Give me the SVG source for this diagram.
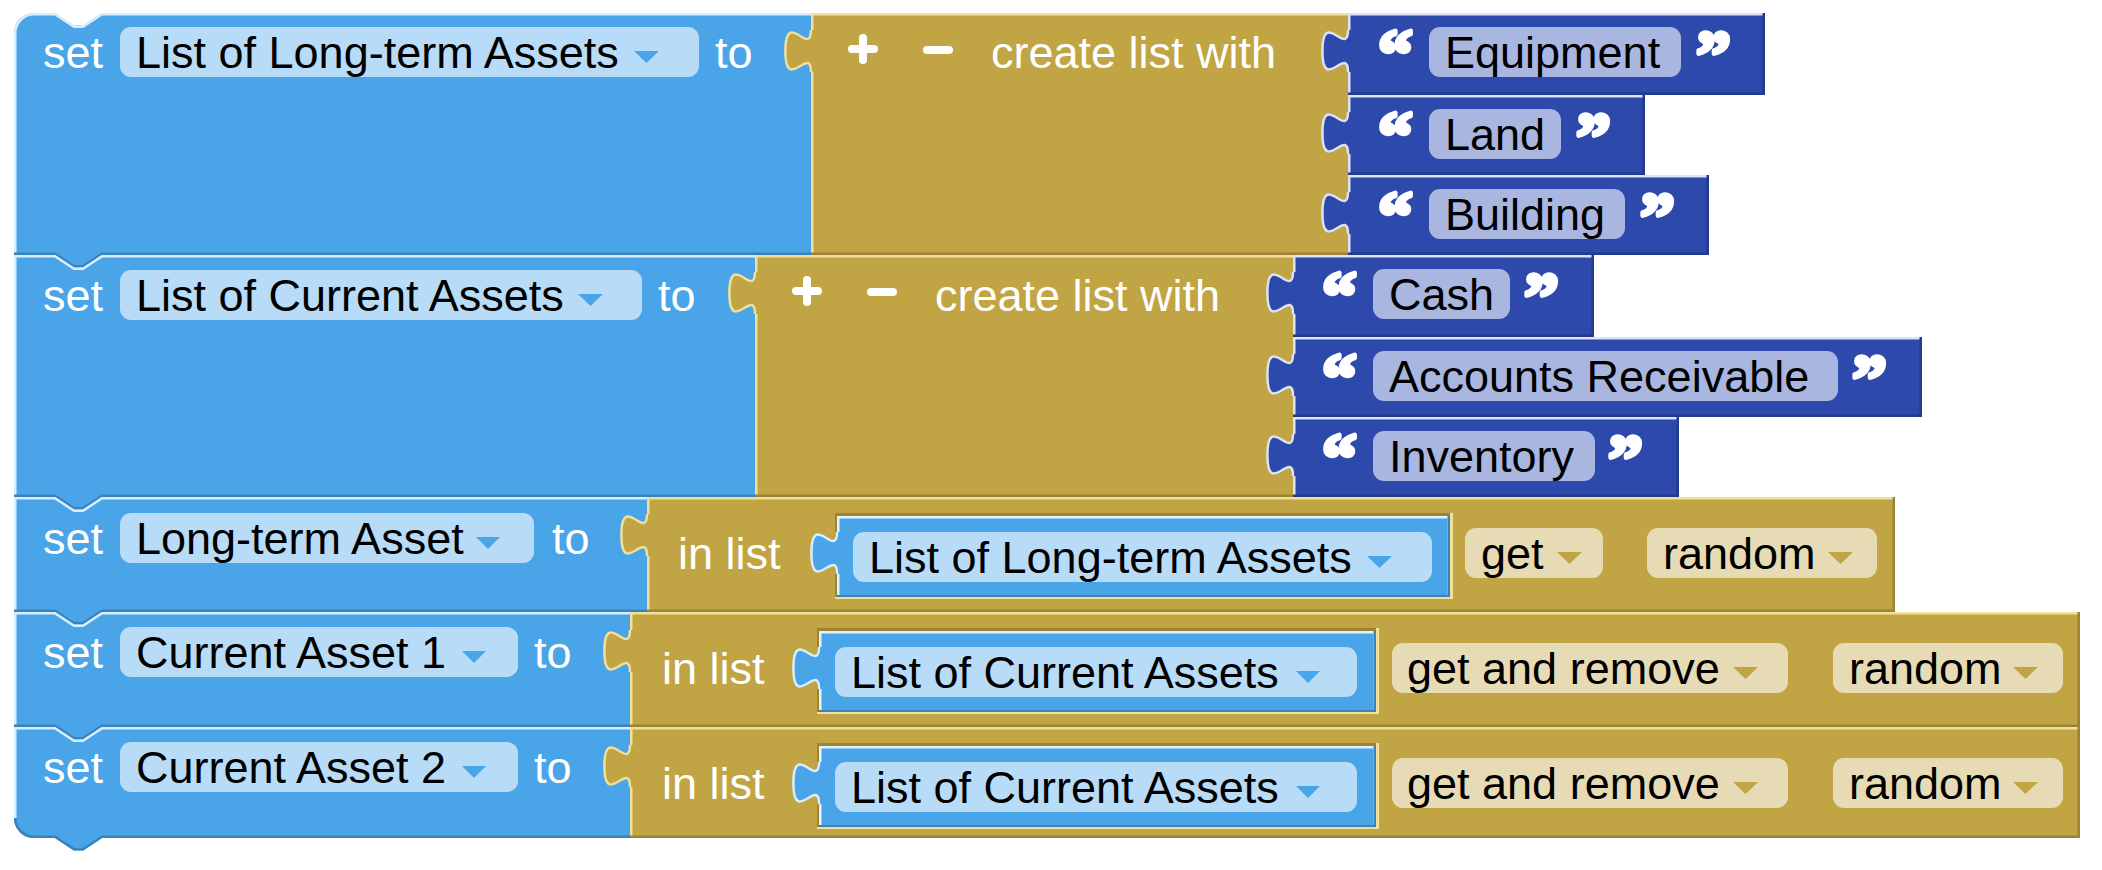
<svg xmlns="http://www.w3.org/2000/svg" width="2102" height="870" viewBox="0 0 2102 870">
<defs>
<style>
text{font-family:"Liberation Sans",Arial,Helvetica,sans-serif;font-size:45px}
.w{fill:#fff}
.k{fill:#000}
.q{font-family:"Liberation Serif","Times New Roman",serif;font-weight:bold;font-size:70px;fill:#fff;stroke:#fff;stroke-width:4.5;stroke-linejoin:round}
.blue{fill:#4aa5e8}
.bl{fill:none;stroke:#d9eefc;stroke-width:2.5}
.bd{fill:none;stroke:#3a82ba;stroke-width:2.5}
.gold{fill:#c1a443}
.gl{fill:none;stroke:#f3df9c;stroke-width:2.5}
.gd{fill:none;stroke:#9b8436;stroke-width:2.5}
.tb{fill:#2c49ab}
.tl{fill:none;stroke:#dde2f5;stroke-width:2.5}
.td{fill:none;stroke:#22398c;stroke-width:2.5}
.vf{fill:#b8dbf7}
.tf{fill:#a9b6e0}
.bf{fill:#e6dbb4}
.vtri{fill:#4aa5e8}
.gtri{fill:#c1a443}
.icon{stroke:#fff;stroke-width:8;stroke-linecap:round;fill:none}
.sock{fill:#9b8436}
.sockl{fill:#f3df9c}
.ibd{fill:#3a82ba}
.ibl{fill:#e2f1fc}
</style>
<path id="tab" d="M 3,0 H 0 c 0,28 -25.6,-22.4 -25.6,21 s 25.6,-7 25.6,21 H 3 Z"/>
<path id="tabedge" d="M 0,0 c 0,28 -25.6,-22.4 -25.6,21 s 25.6,-7 25.6,21"/>
</defs>

<!-- Block 1 -->
<g id="set-long-term-list">
<path class="blue" d="M 14,33 A 20,20 0 0 1 34,13 H 55 L 74,25.5 H 83 L 102,13 H 812 V 255 H 102 L 83,267.5 H 74 L 55,255 H 14 Z"/>
<path class="bl" d="M 15.25,255 V 33 A 18.75,18.75 0 0 1 34,14.25 H 55 L 74,26.75 H 83 L 102,14.25 H 811"/>
<path class="bd" d="M 14,253.75 H 55 L 74,266.25 H 83 L 102,253.75 H 811"/>
<text class="w" x="43" y="68">set</text>
<rect class="vf" x="120" y="27" width="579" height="50" rx="11"/>
<text class="k" x="136" y="68">List of Long-term Assets</text>
<path class="vtri" d="M 634,51 H 659 L 646.5,63 Z"/>
<text class="w" x="715" y="68">to</text>
</g>
<g id="create-list-1">
<rect class="gold" x="811" y="13" width="537" height="242"/>
<path class="gl" d="M 812.25,255 V 14.25 H 1348"/>
<path class="gd" d="M 811,253.75 H 1348"/>
<use href="#tab" class="gold" x="811" y="30"/>
<use href="#tabedge" class="gl" x="811" y="30"/>
<path class="icon" d="M 852,49 H 874 M 863,38 V 60 M 927,50 H 949"/>
<text class="w" x="991" y="68">create list with</text>
</g>
<g id="txt-equipment">
<rect class="tb" x="1348" y="13" width="417" height="82"/>
<path class="tl" d="M 1349.25,95 V 14.25 H 1765"/>
<path class="td" d="M 1348,93.75 H 1763.75 V 13"/>
<use href="#tab" class="tb" x="1348" y="30"/>
<use href="#tabedge" class="tl" x="1348" y="30"/>
<text class="q" x="1378" y="77">“</text>
<rect class="tf" x="1429" y="27" width="252" height="50" rx="11"/>
<text class="k" x="1445" y="68">Equipment</text>
<text class="q" x="1696" y="79">”</text>
</g>
<g id="txt-land">
<rect class="tb" x="1348" y="95" width="297" height="80"/>
<path class="tl" d="M 1349.25,175 V 96.25 H 1645"/>
<path class="td" d="M 1348,173.75 H 1643.75 V 95"/>
<use href="#tab" class="tb" x="1348" y="112"/>
<use href="#tabedge" class="tl" x="1348" y="112"/>
<text class="q" x="1378" y="159">“</text>
<rect class="tf" x="1429" y="109" width="132" height="50" rx="11"/>
<text class="k" x="1445" y="150">Land</text>
<text class="q" x="1576" y="161">”</text>
</g>
<g id="txt-building">
<rect class="tb" x="1348" y="175" width="361" height="80"/>
<path class="tl" d="M 1349.25,255 V 176.25 H 1709"/>
<path class="td" d="M 1348,253.75 H 1707.75 V 175"/>
<use href="#tab" class="tb" x="1348" y="192"/>
<use href="#tabedge" class="tl" x="1348" y="192"/>
<text class="q" x="1378" y="239">“</text>
<rect class="tf" x="1429" y="189" width="196" height="50" rx="11"/>
<text class="k" x="1445" y="230">Building</text>
<text class="q" x="1640" y="241">”</text>
</g>

<!-- Block 2 -->
<g id="set-current-list">
<path class="blue" d="M 14,255 H 55 L 74,267.5 H 83 L 102,255 H 756 V 497 H 102 L 83,509.5 H 74 L 55,497 H 14 Z"/>
<path class="bl" d="M 15.25,497 V 256.25 H 55 L 74,268.75 H 83 L 102,256.25 H 755"/>
<path class="bd" d="M 14,495.75 H 55 L 74,508.25 H 83 L 102,495.75 H 755"/>
<text class="w" x="43" y="311">set</text>
<rect class="vf" x="120" y="270" width="522" height="50" rx="11"/>
<text class="k" x="136" y="311">List of Current Assets</text>
<path class="vtri" d="M 578,294 H 603 L 590.5,306 Z"/>
<text class="w" x="658" y="311">to</text>
</g>
<g id="create-list-2">
<rect class="gold" x="755" y="255" width="538" height="242"/>
<path class="gl" d="M 756.25,497 V 256.25 H 1293"/>
<path class="gd" d="M 755,495.75 H 1293"/>
<use href="#tab" class="gold" x="755" y="272"/>
<use href="#tabedge" class="gl" x="755" y="272"/>
<path class="icon" d="M 796,291 H 818 M 807,280 V 302 M 871,292 H 893"/>
<text class="w" x="935" y="311">create list with</text>
</g>
<g id="txt-cash">
<rect class="tb" x="1293" y="255" width="301" height="82"/>
<path class="tl" d="M 1294.25,337 V 256.25 H 1594"/>
<path class="td" d="M 1293,335.75 H 1592.75 V 255"/>
<use href="#tab" class="tb" x="1293" y="272"/>
<use href="#tabedge" class="tl" x="1293" y="272"/>
<text class="q" x="1322" y="319">“</text>
<rect class="tf" x="1373" y="269" width="137" height="50" rx="11"/>
<text class="k" x="1389" y="310">Cash</text>
<text class="q" x="1524" y="321">”</text>
</g>
<g id="txt-accounts-receivable">
<rect class="tb" x="1293" y="337" width="629" height="80"/>
<path class="tl" d="M 1294.25,417 V 338.25 H 1922"/>
<path class="td" d="M 1293,415.75 H 1920.75 V 337"/>
<use href="#tab" class="tb" x="1293" y="354"/>
<use href="#tabedge" class="tl" x="1293" y="354"/>
<text class="q" x="1322" y="401">“</text>
<rect class="tf" x="1373" y="351" width="465" height="50" rx="11"/>
<text class="k" x="1389" y="392">Accounts Receivable</text>
<text class="q" x="1852" y="403">”</text>
</g>
<g id="txt-inventory">
<rect class="tb" x="1293" y="417" width="386" height="80"/>
<path class="tl" d="M 1294.25,497 V 418.25 H 1679"/>
<path class="td" d="M 1293,495.75 H 1677.75 V 417"/>
<use href="#tab" class="tb" x="1293" y="434"/>
<use href="#tabedge" class="tl" x="1293" y="434"/>
<text class="q" x="1322" y="481">“</text>
<rect class="tf" x="1373" y="431" width="222" height="50" rx="11"/>
<text class="k" x="1389" y="472">Inventory</text>
<text class="q" x="1608" y="483">”</text>
</g>

<!-- Block 3 -->
<g id="set-long-term-asset">
<path class="blue" d="M 14,497 H 55 L 74,509.5 H 83 L 102,497 H 648 V 612 H 102 L 83,624.5 H 74 L 55,612 H 14 Z"/>
<path class="bl" d="M 15.25,612 V 498.25 H 55 L 74,510.75 H 83 L 102,498.25 H 647"/>
<path class="bd" d="M 14,610.75 H 55 L 74,623.25 H 83 L 102,610.75 H 647"/>
<text class="w" x="43" y="554">set</text>
<rect class="vf" x="120" y="513" width="414" height="50" rx="11"/>
<text class="k" x="136" y="554">Long-term Asset</text>
<path class="vtri" d="M 476,537 H 500 L 488,549 Z"/>
<text class="w" x="552" y="554">to</text>
</g>
<g id="list-get-random">
<rect class="gold" x="647" y="497" width="1248" height="115"/>
<path class="gl" d="M 648.25,612 V 498.25 H 1895"/>
<path class="gd" d="M 647,610.75 H 1893.75 V 497"/>
<use href="#tab" class="gold" x="647" y="514"/>
<use href="#tabedge" class="gl" x="647" y="514"/>
<text class="w" x="678" y="569">in list</text>
<rect class="sockl" x="835" y="513" width="618" height="86"/>
<rect class="sock" x="835" y="513" width="615" height="84"/>
<rect class="ibd" x="837" y="516" width="613" height="81"/>
<rect class="ibl" x="837" y="516" width="610.5" height="79"/>
<rect class="blue" x="839.5" y="518.5" width="608" height="76.5"/>
<use href="#tab" class="blue" x="837" y="532"/>
<use href="#tabedge" class="bl" x="837" y="532"/>
<rect class="vf" x="853" y="532" width="579" height="50" rx="11"/>
<text class="k" x="869" y="573">List of Long-term Assets</text>
<path class="vtri" d="M 1367,556 H 1392 L 1379.5,568 Z"/>
<rect class="bf" x="1465" y="528" width="138" height="50" rx="11"/>
<text class="k" x="1481" y="569">get</text>
<path class="gtri" d="M 1557,552 H 1582 L 1569.5,564 Z"/>
<rect class="bf" x="1647" y="528" width="230" height="50" rx="11"/>
<text class="k" x="1663" y="569">random</text>
<path class="gtri" d="M 1828,552 H 1853 L 1840.5,564 Z"/>
</g>

<!-- Block 4 -->
<g id="set-current-asset-1">
<path class="blue" d="M 14,612 H 55 L 74,624.5 H 83 L 102,612 H 631 V 727 H 102 L 83,739.5 H 74 L 55,727 H 14 Z"/>
<path class="bl" d="M 15.25,727 V 613.25 H 55 L 74,625.75 H 83 L 102,613.25 H 630"/>
<path class="bd" d="M 14,725.75 H 55 L 74,738.25 H 83 L 102,725.75 H 630"/>
<text class="w" x="43" y="668">set</text>
<rect class="vf" x="120" y="627" width="398" height="50" rx="11"/>
<text class="k" x="136" y="668">Current Asset 1</text>
<path class="vtri" d="M 462,651 H 486 L 474,663 Z"/>
<text class="w" x="534" y="668">to</text>
</g>
<g id="list-get-remove-1">
<rect class="gold" x="630" y="612" width="1450" height="115"/>
<path class="gl" d="M 631.25,727 V 613.25 H 2080"/>
<path class="gd" d="M 630,725.75 H 2078.75 V 612"/>
<use href="#tab" class="gold" x="630" y="630"/>
<use href="#tabedge" class="gl" x="630" y="630"/>
<text class="w" x="662" y="684">in list</text>
<rect class="sockl" x="817" y="628" width="562" height="86"/>
<rect class="sock" x="817" y="628" width="559" height="84"/>
<rect class="ibd" x="819" y="631" width="557" height="81"/>
<rect class="ibl" x="819" y="631" width="554.5" height="79"/>
<rect class="blue" x="821.5" y="633.5" width="552" height="76.5"/>
<use href="#tab" class="blue" x="819" y="647"/>
<use href="#tabedge" class="bl" x="819" y="647"/>
<rect class="vf" x="835" y="647" width="522" height="50" rx="11"/>
<text class="k" x="851" y="688">List of Current Assets</text>
<path class="vtri" d="M 1296,671 H 1320 L 1308,683 Z"/>
<rect class="bf" x="1392" y="643" width="396" height="50" rx="11"/>
<text class="k" x="1407" y="684">get and remove</text>
<path class="gtri" d="M 1733,667 H 1758 L 1745.5,679 Z"/>
<rect class="bf" x="1833" y="643" width="230" height="50" rx="11"/>
<text class="k" x="1849" y="684">random</text>
<path class="gtri" d="M 2013,667 H 2038 L 2025.5,679 Z"/>
</g>

<!-- Block 5 -->
<g id="set-current-asset-2">
<path class="blue" d="M 14,727 H 55 L 74,739.5 H 83 L 102,727 H 631 V 838 H 102 L 83,850.5 H 74 L 55,838 H 34 A 20,20 0 0 1 14,818 Z"/>
<path class="bl" d="M 15.25,818 V 728.25 H 55 L 74,740.75 H 83 L 102,728.25 H 630"/>
<path class="bd" d="M 15.25,818 A 18.75,18.75 0 0 0 34,836.75 H 55 L 74,849.25 H 83 L 102,836.75 H 630"/>
<text class="w" x="43" y="783">set</text>
<rect class="vf" x="120" y="742" width="398" height="50" rx="11"/>
<text class="k" x="136" y="783">Current Asset 2</text>
<path class="vtri" d="M 462,766 H 486 L 474,778 Z"/>
<text class="w" x="534" y="783">to</text>
</g>
<g id="list-get-remove-2">
<rect class="gold" x="630" y="727" width="1450" height="111"/>
<path class="gl" d="M 631.25,838 V 728.25 H 2080"/>
<path class="gd" d="M 630,836.75 H 2078.75 V 727"/>
<use href="#tab" class="gold" x="630" y="745"/>
<use href="#tabedge" class="gl" x="630" y="745"/>
<text class="w" x="662" y="799">in list</text>
<rect class="sockl" x="817" y="743" width="562" height="86"/>
<rect class="sock" x="817" y="743" width="559" height="84"/>
<rect class="ibd" x="819" y="746" width="557" height="81"/>
<rect class="ibl" x="819" y="746" width="554.5" height="79"/>
<rect class="blue" x="821.5" y="748.5" width="552" height="76.5"/>
<use href="#tab" class="blue" x="819" y="762"/>
<use href="#tabedge" class="bl" x="819" y="762"/>
<rect class="vf" x="835" y="762" width="522" height="50" rx="11"/>
<text class="k" x="851" y="803">List of Current Assets</text>
<path class="vtri" d="M 1296,786 H 1320 L 1308,798 Z"/>
<rect class="bf" x="1392" y="758" width="396" height="50" rx="11"/>
<text class="k" x="1407" y="799">get and remove</text>
<path class="gtri" d="M 1733,782 H 1758 L 1745.5,794 Z"/>
<rect class="bf" x="1833" y="758" width="230" height="50" rx="11"/>
<text class="k" x="1849" y="799">random</text>
<path class="gtri" d="M 2013,782 H 2038 L 2025.5,794 Z"/>
</g>

<g id="connectors"></g>
</svg>
